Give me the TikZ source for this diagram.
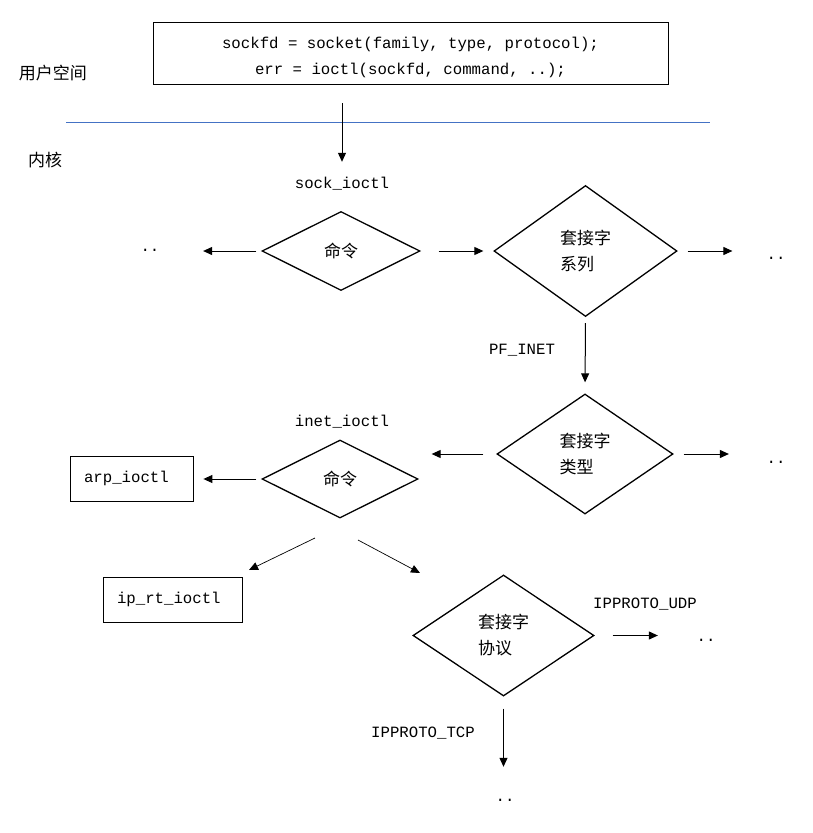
\documentclass[tikz,border=0pt]{standalone}
\usepackage{fontspec}
\setmonofont{Liberation Mono}
\newfontfamily\cjk{Noto Sans CJK SC}
\usetikzlibrary{arrows.meta,shapes.geometric}
\definecolor{sepblue}{RGB}{68,114,196}
\begin{document}
\begin{tikzpicture}[x=1pt,y=-1pt,
  dia/.style={draw, diamond, line width=1.3pt, inner sep=0pt, align=left,
    font=\cjk\fontsize{17}{26}\selectfont},
  lbl/.style={inner sep=0pt, text height=11pt, text depth=3pt,
    font=\ttfamily\fontsize{15.7}{18}\selectfont},
  dotsnode/.style={inner sep=0pt, text height=2pt, text depth=0pt,
    font=\ttfamily\fontsize{15.7}{18}\selectfont},
  cjklbl/.style={inner sep=0pt, font=\cjk\fontsize{17}{20}\selectfont},
  fnbox/.style={draw, line width=0.8pt, inner xsep=14pt, inner ysep=0pt,
    minimum height=45pt, align=left, font=\ttfamily\fontsize{15.7}{18}\selectfont},
  arr/.style={-{Triangle[length=9pt,width=8pt]}, line width=1pt},
  thinarr/.style={-{Triangle[length=9pt,width=8pt]}, line width=0.7pt}
]
\useasboundingbox (0,0) rectangle (813,833);

\node[draw, line width=0.8pt, minimum width=515pt, minimum height=62pt, inner sep=0pt,
  text height=45.5pt, text depth=3.5pt, align=center, font=\ttfamily\fontsize{15.7}{26}\selectfont] (code) at (410.5,53)
  {sockfd = socket(family, type, protocol);\\err = ioctl(sockfd, command, ..);};

\node[cjklbl] (us) at (53,73) {用户空间};
\node[cjklbl] (kn) at (45,160) {内核};
\draw[sepblue, line width=0.9pt] (66,122) -- (710,122);

\node[lbl] (sock) at (342,184) {sock\_ioctl};
\node[dia, minimum width=158pt, minimum height=79pt] (d1) at (341,251) {命令};
\node[dotsnode] (dl) at (150,250) {..};
\node[dia, minimum width=183pt, minimum height=131pt] (d2) at (585.5,251) {套接字\\系列};
\node[dotsnode] (dr1) at (776,258) {..};
\node[lbl] (pf) at (522,350) {PF\_INET};
\node[dia, minimum width=176pt, minimum height=120pt] (d3) at (585,454) {套接字\\类型};
\node[dotsnode] (dr2) at (776,462) {..};
\node[lbl] (inet) at (342,422) {inet\_ioctl};
\node[dia, minimum width=156pt, minimum height=78pt] (d4) at (340,479) {命令};
\node[fnbox, text width=95pt] (arp) at (131.5,478.5) {arp\_ioctl};
\node[fnbox, text width=111pt] (iprt) at (172.5,599.5) {ip\_rt\_ioctl};
\node[dia, minimum width=181pt, minimum height=121pt] (d5) at (503.5,635.5) {套接字\\协议};
\node[lbl] (udp) at (645,604) {IPPROTO\_UDP};
\node[dotsnode] (dr3) at (706,640) {..};
\node[lbl] (tcp) at (423,733) {IPPROTO\_TCP};
\node[dotsnode] (db) at (505,800) {..};

\coordinate (a1) at (315,538);
\coordinate (a2) at (249,570);
\coordinate (b1) at (358,540);
\coordinate (b2) at (420,573);

\draw[arr, shorten <=19pt, shorten >=15pt] (code.south -| sock.north) -- (sock.north);
\draw[arr, shorten <=5pt, shorten >=43.5pt] (d1.west) -- (d1.west -| dl.east);
\draw[arr, shorten <=18pt, shorten >=10pt] (d1.east) -- (d1.east -| d2.west);
\draw[arr, shorten <=10pt, shorten >=34pt] (d2.east) -- (d2.east -| dr1.west);
\draw[arr, shorten <=6pt, shorten >=11pt] (d2.south) -- (d3.north);
\draw[arr, shorten <=10pt, shorten >=37.5pt] (d3.east) -- (d3.east -| dr2.west);
\draw[arr, shorten <=13pt, shorten >=13pt] (d3.west) -- (d3.west -| d4.east);
\draw[arr, shorten <=5pt, shorten >=10pt] (d4.west) -- (d4.west -| arp.east);
\draw[thinarr] (a1) -- (a2);
\draw[thinarr] (b1) -- (b2);
\draw[arr, shorten <=18pt, shorten >=38.5pt] (d5.east) -- (d5.east -| dr3.west);
\draw[arr, shorten <=12pt, shorten >=32pt] (d5.south) -- (d5.south |- db.north);
\end{tikzpicture}
\end{document}
